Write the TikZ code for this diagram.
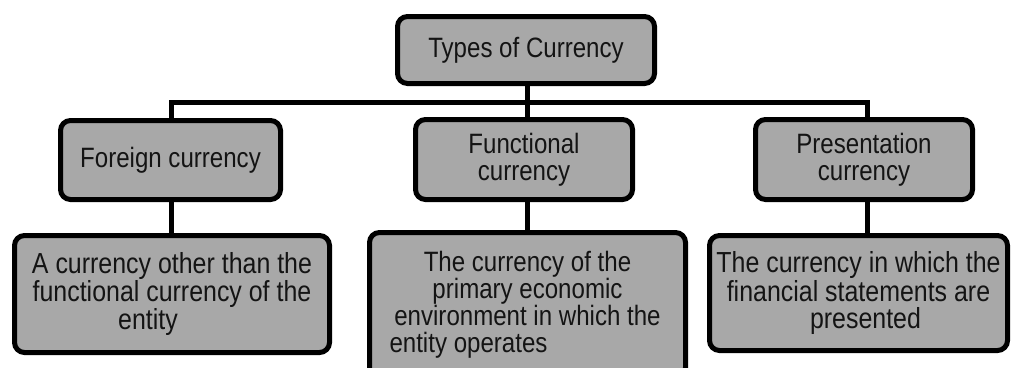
\documentclass[tikz,border=0pt]{standalone}
\usepackage{fontspec}
\setmainfont{Liberation Sans}[FakeStretch=0.86]
\definecolor{boxgray}{RGB}{168,168,168}
\definecolor{txt}{RGB}{20,20,20}
\tikzset{
  cbox/.style={draw=black, fill=boxgray, line width=5pt, rounded corners=10pt,
    align=center, text=txt, inner sep=0pt,
    font=\fontsize{28}{27}\selectfont},
  conn/.style={draw=black, line width=5pt}
}
\begin{document}
\begin{tikzpicture}[x=1pt,y=-1pt]
\clip (0,0) rectangle (1014,367);
\fill[white] (0,0) rectangle (1014,367);
\node[cbox, minimum width=257pt, minimum height=67pt] (top) at (526,50) {Types of Currency};
\node[cbox, minimum width=220pt, minimum height=79pt] (foreign) at (170.5,160) {Foreign currency};
\node[cbox, minimum width=217pt, minimum height=80pt] (func) at (524,159.5) {Functional\\currency};
\node[cbox, minimum width=217pt, minimum height=80pt] (pres) at (864,159.5) {Presentation\\currency};
\node[cbox, font=\fontsize{29}{27}\selectfont, minimum width=315pt, minimum height=117pt] (dfor) at (172,294) {A currency other than the\\functional currency of the\\entity\hspace*{48pt}};
\node[cbox, minimum width=316pt, minimum height=145pt] (dfunc) at (527.5,305) {The currency of the\\primary economic\\environment in which the\\entity operates\hspace*{118pt}};
\node[cbox, font=\fontsize{29}{27}\selectfont, minimum width=298pt, minimum height=115pt] (dpres) at (858.5,293) {The currency in which the\\financial statements are\\\hspace*{14pt}presented};
\coordinate (busL) at (171,102.5);
\coordinate (busM) at (527,102.5);
\coordinate (busR) at (867,102.5);
\draw[conn] (busM |- top.south) -- (busM |- func.north);
\draw[conn] (busL |- foreign.north) -- (busL) -- (busR) -- (busR |- pres.north);
\draw[conn] (busL |- foreign.south) -- (busL |- dfor.north);
\draw[conn] (busM |- func.south) -- (busM |- dfunc.north);
\draw[conn] (busR |- pres.south) -- (busR |- dpres.north);
\end{tikzpicture}
\end{document}
